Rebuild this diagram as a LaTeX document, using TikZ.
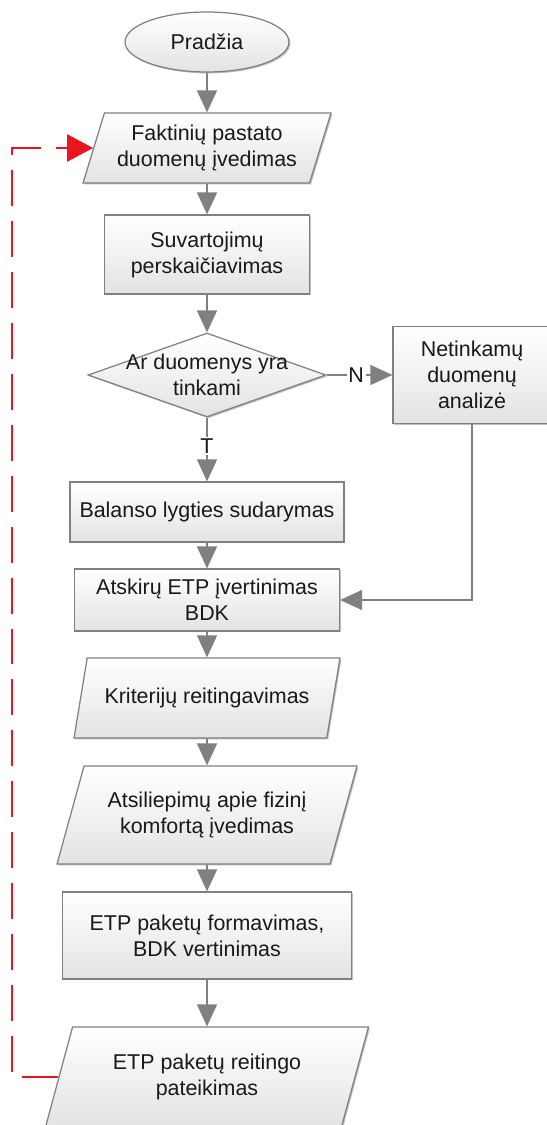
\documentclass[tikz,border=0pt]{standalone}
\usepackage{fontspec}
\setmainfont{Liberation Sans}
\usetikzlibrary{arrows.meta, positioning, shapes.geometric, shadows}
\definecolor{flowgray}{RGB}{128, 128, 128}
\definecolor{loopred}{RGB}{235, 20, 30}

\begin{document}
\begin{tikzpicture}[
  x=0.02cm, y=-0.02cm,
  every node/.style={font=\fontsize{12.2}{14.8}\selectfont, text=black!90},
  base/.style={draw=flowgray, line width=0.7pt, top color=white, bottom color=gray!22, drop shadow={shadow xshift=0.8pt, shadow yshift=-0.8pt, fill=black, opacity=0.25}, align=center, inner sep=2pt},
  term/.style={base, ellipse, minimum width=3.28cm, minimum height=1.2cm},
  box/.style={base, rectangle},
  io/.style={base, trapezium, trapezium left angle=64, trapezium right angle=116, trapezium stretches body},
  decision/.style={base, diamond, minimum width=4.76cm, minimum height=1.68cm, inner sep=0pt},
  arrow/.style={-{Triangle[length=0.44cm, width=0.4cm]}, line width=0.9pt, color=flowgray},
  feedback/.style={-{Triangle[length=0.52cm, width=0.54cm]}, line width=1.4pt, color=loopred, dash pattern=on 0.72cm off 0.3cm},
  lbl/.style={fill=white, inner sep=1pt}
]
  \useasboundingbox (0,0) rectangle (547,1125);

  % Pagrindinis srautas
  \node[term] (start) at (207,42) {Pradžia};
  \node[io, trapezium left angle=68, trapezium right angle=112, minimum width=4.96cm, minimum height=1.4cm] (inp) at (207,148) {Faktinių pastato\\duomenų įvedimas};
  \node[box, minimum width=4.1cm, minimum height=1.58cm] (calc) at (207,254.5) {Suvartojimų\\perskaičiavimas};
  \node[decision, label={[align=center]center:Ar duomenys yra\\tinkami}] (check) at (207,375) {};
  \node[box, minimum width=3.16cm, minimum height=1.94cm] (bad) at (472,375) {Netinkamų\\duomenų\\analizė};
  \node[box, minimum width=5.48cm, minimum height=1.2cm] (bal) at (207,512) {Balanso lygties sudarymas};
  \node[box, minimum width=5.3cm, minimum height=1.24cm] (sep) at (207,600) {Atskirų ETP įvertinimas\\BDK};
  \node[io, minimum width=5.32cm, minimum height=1.6cm] (rank) at (207,698) {Kriterijų reitingavimas};
  \node[io, trapezium left angle=63, trapezium right angle=117, minimum width=6.0cm, minimum height=1.96cm] (fb) at (207,815) {Atsiliepimų apie fizinį\\komfortą įvedimas};
  \node[box, minimum width=5.78cm, minimum height=1.74cm] (pack) at (207,935.5) {ETP paketų formavimas,\\BDK vertinimas};
  \node[io, trapezium left angle=63, trapezium right angle=117, minimum width=6.46cm, minimum height=2.0cm] (out) at (207,1077) {ETP paketų reitingo\\pateikimas};

  \draw[arrow] (start) -- (inp);
  \draw[arrow] (inp) -- (calc);
  \draw[arrow] (calc) -- (check);
  \draw[arrow] (check) -- (bad) node[lbl, pos=0.45] {N};
  \draw[arrow] (check) -- (bal) node[lbl, pos=0.45] {T};
  \draw[arrow] (bal) -- (sep);
  \draw[arrow] (bad) |- (sep);
  \draw[arrow] (sep) -- (rank);
  \draw[arrow] (rank) -- (fb);
  \draw[arrow] (fb) -- (pack);
  \draw[arrow] (pack) -- (out);

  % Grizimas
  \coordinate (back) at (12,148);
  \draw[feedback] (out.left side) -| (back) |- (inp.left side);

\end{tikzpicture}
\end{document}
